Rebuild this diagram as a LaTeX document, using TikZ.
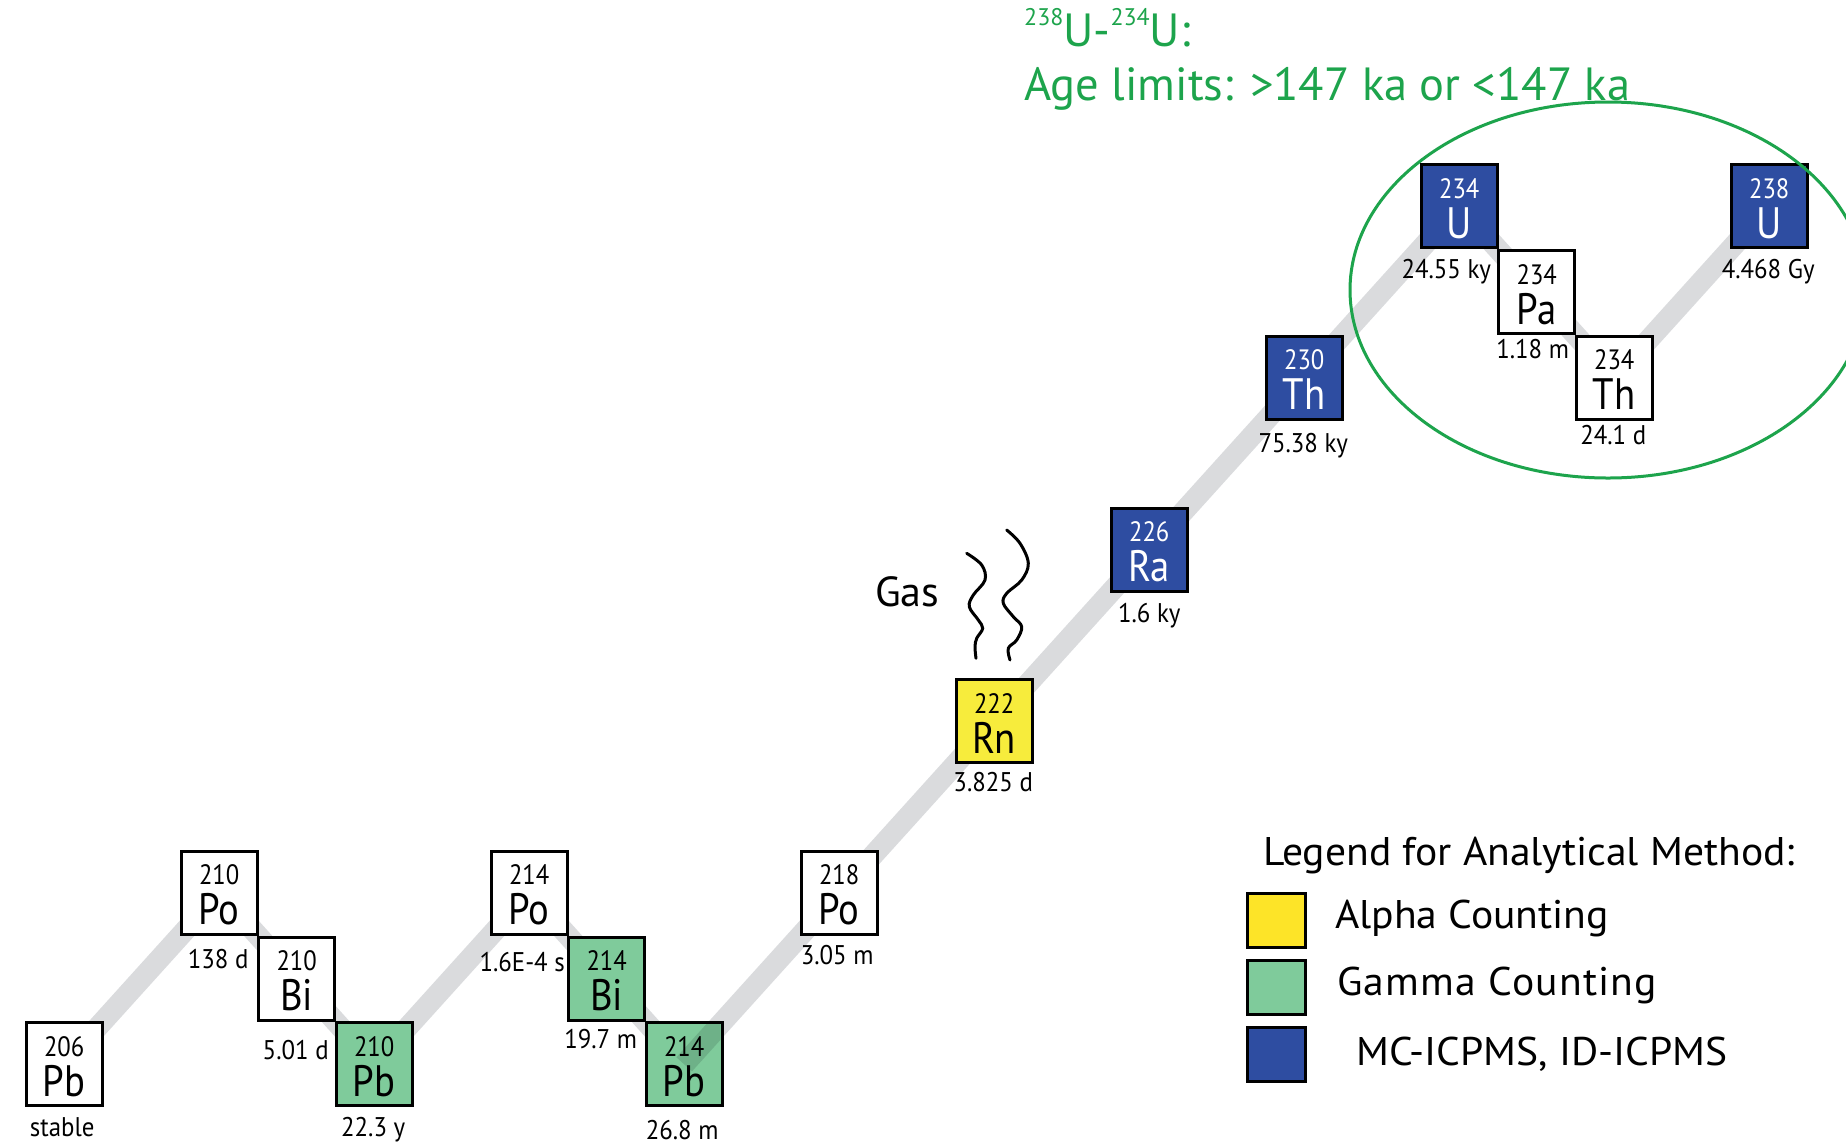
\documentclass[tikz,border=0pt]{standalone}
\usepackage{fontspec}
\setmainfont{PT Sans}
\newfontfamily\boxfont[FakeStretch=0.88]{PT Sans}
\newfontfamily\lblfont[FakeStretch=0.92]{PT Sans}
\newfontfamily\legfont[FakeStretch=1.04]{PT Sans}
\pgfdeclarelayer{bg}
\pgfdeclarelayer{fg}
\pgfsetlayers{bg,main,fg}
\definecolor{isoblue}{RGB}{46,77,161}
\definecolor{isogreen}{RGB}{127,203,155}
\definecolor{isoyellow}{RGB}{247,236,60}
\definecolor{legyellow}{RGB}{253,228,40}
\definecolor{bandgray}{RGB}{218,219,221}
\definecolor{agegreen}{RGB}{29,164,76}
\definecolor{ovlgreen}{RGB}{110,177,136}
\tikzset{
  elem/.style={draw=black, line width=3pt, minimum width=76pt, minimum height=83pt, inner sep=0pt, outer sep=0pt},
  massnum/.style={inner sep=0pt, anchor=base, font=\boxfont\fontsize{28}{28}\selectfont},
  symb/.style={inner sep=0pt, anchor=base, font=\boxfont\fontsize{44}{44}\selectfont},
  halflife/.style={inner sep=0pt, anchor=base, font=\lblfont\fontsize{27}{27}\selectfont},
  band/.style={line width=21pt, draw=bandgray, line join=round},
  legbox/.style={draw=black, line width=3pt, minimum width=58pt, minimum height=54pt, inner sep=0pt},
  legtext/.style={inner sep=0pt, anchor=base west, font=\legfont\fontsize{40}{40}\selectfont},
  legtitle/.style={inner sep=0pt, anchor=base west, font=\legfont\fontsize{40}{40}\selectfont},
  agetext/.style={inner sep=0pt, anchor=base west, text=agegreen, font=\fontsize{46.5}{46.5}\selectfont},
  gastext/.style={inner sep=0pt, anchor=base west, font=\fontsize{42}{42}\selectfont},
  gasline/.style={line width=3pt, line cap=round},
  ageellipse/.style={draw=agegreen, line width=3pt}
}
\newcommand{\isotope}[9]{%
  \node[elem, fill=#3] (#1) at (#2) {};
  \begin{pgfonlayer}{fg}
    \node[massnum, text=#4] (#1m) at ([yshift=8pt]#1.center) {#5};
    \node[symb, text=#4] (#1s) at ([yshift=-32pt]#1.center) {#6};
    \node[halflife] (#1h) at ([xshift=#8pt, yshift=-#9pt]#1.south) {#7};
  \end{pgfonlayer}
}
\newcommand{\supnum}[1]{\raisebox{21.7pt}{\fontsize{24}{24}\selectfont #1}}
\begin{document}
\begin{tikzpicture}[x=1pt, y=-1pt]
\begin{pgfonlayer}{bg}
  \fill[white] (0,0) rectangle (1846,1144);
\end{pgfonlayer}
\useasboundingbox (0,0) rectangle (1846,1144);

% isotopes
\isotope{pb206}{64.2,1064.3}{white}{black}{206}{Pb}{stable}{-2}{31}
\isotope{po210}{219.2,892.7}{white}{black}{210}{Po}{138 d}{-1}{34}
\isotope{bi210}{296.7,978.5}{white}{black}{210}{Bi}{5.01 d}{-1}{39}
\isotope{pb210}{374.2,1064.3}{isogreen}{black}{210}{Pb}{22.3 y}{-1}{31}
\isotope{po214}{529.2,892.7}{white}{black}{214}{Po}{1.6E-4 s}{-7}{37}
\isotope{bi214}{606.7,978.5}{isogreen}{black}{214}{Bi}{19.7 m}{-6}{28}
\isotope{pb214}{684.2,1064.3}{isogreen}{black}{214}{Pb}{26.8 m}{-2}{34}
\isotope{po218}{839.2,892.7}{white}{black}{218}{Po}{3.05 m}{-2}{30}
\isotope{rn222}{994.2,721.1}{isoyellow}{black}{222}{Rn}{3.825 d}{-1}{29}
\isotope{ra226}{1149.2,549.5}{isoblue}{white}{226}{Ra}{1.6 ky}{0}{31}
\isotope{th230}{1304.2,377.9}{isoblue}{white}{230}{Th}{75.38 ky}{-1}{33}
\isotope{u234}{1459.2,206.3}{isoblue}{white}{234}{U}{24.55 ky}{-13}{31}
\isotope{pa234}{1536.7,292.1}{white}{black}{234}{Pa}{1.18 m}{-4}{25}
\isotope{th234}{1614.2,377.9}{white}{black}{234}{Th}{24.1 d}{-1}{25}
\isotope{u238}{1769.2,206.3}{isoblue}{white}{238}{U}{4.468 Gy}{-1}{31}

% decay band
\begin{pgfonlayer}{bg}
  \draw[band] (u238.center) -- (th234.center) -- (pa234.center) -- (u234.center)
    -- (th230.center) -- (ra226.center) -- (rn222.center) -- (po218.center)
    -- (pb214.center) -- (bi214.center) -- (po214.center) -- (pb210.center)
    -- (bi210.center) -- (po210.center) -- (pb206.center);
\end{pgfonlayer}
\begin{scope}
  \clip ([shift={(1.5pt,1.5pt)}]pb214.south west) rectangle ([shift={(-1.5pt,-1.5pt)}]pb214.north east);
  \draw[line width=21pt, draw=ovlgreen] (pb214.center) -- (po218.center);
\end{scope}

% gas
\node[gastext] (gas) at (875,606) {Gas};
\draw[gasline] plot[smooth, tension=0.6] coordinates {(966.7,553.3) (981.7,565) (985,580) (973.3,595) (969.3,606.7) (978.3,620) (982.7,628.3) (976.7,638.3) (975,646.7) (976,658.3)};
\draw[gasline] plot[smooth, tension=0.6] coordinates {(1006.7,530) (1020,543.3) (1028.3,563.3) (1021.7,580) (1006.7,593.3) (1003.3,603.3) (1013.3,616.7) (1021.7,626.7) (1016.7,640) (1008.3,648.3) (1010,660)};

% U-U age box
\node[agetext] (age1) at (1024,46.7) {\supnum{238}U-\supnum{234}U:};
\node[agetext] (age2) at (1024,100) {Age limits: >147 ka or <147 ka};
\begin{scope}
  \clip (0,0) rectangle (1846,1144);
  \draw[ageellipse] (1608,290) ellipse [x radius=258pt, y radius=188pt];
\end{scope}

% legend
\node[legtitle] (legtitle) at (1263,865) {Legend for Analytical Method:};
\node[legbox, fill=legyellow] (legA) at (1276,920.5) {};
\node[legbox, fill=isogreen] (legG) at (1276,987) {};
\node[legbox, fill=isoblue] (legM) at (1276,1054.5) {};
\node[legtext] (legAt) at (1335,928) {Alpha Counting};
\node[legtext] (legGt) at (1337,995) {\addfontfeature{LetterSpace=3}Gamma Counting};
\node[legtext] (legMt) at (1356,1065) {MC-ICPMS, ID-ICPMS};
\end{tikzpicture}
\end{document}
